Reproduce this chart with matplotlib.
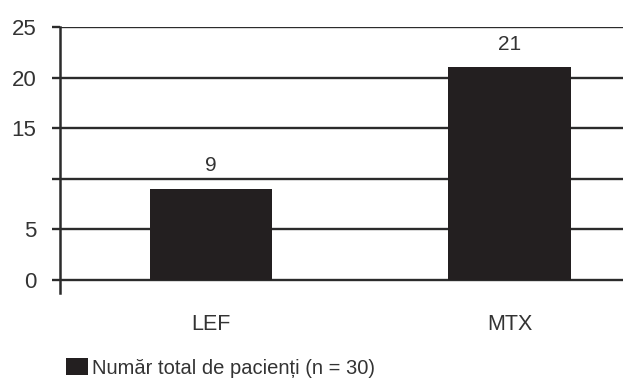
import matplotlib.pyplot as plt

# Pacienţi pe tratament
categorii = ["LEF", "MTX"]
pacienti = [9, 21]
yticks = [0, 5, 10, 15, 20, 25]
ytick_labels = ["0", "5", "", "15", "20", "25"]
legenda = "Număr total de pacienți (n = 30)"

plt.rcParams['font.family'] = ['Liberation Sans', 'DejaVu Sans']

fig = plt.figure(figsize=(6.23, 3.83), dpi=100)
ax = fig.add_axes([60 / 623, 90 / 383, 1 - 60 / 623, 266 / 383])

x = range(len(categorii))
bars = ax.bar(x, pacienti, width=0.41, color="#231f20", zorder=3, label=legenda)

# liniile orizontale
for v in yticks:
    ax.axhline(v, color="#2b2b2b", lw=1.7, zorder=1)

for b, v in zip(bars, pacienti):
    ax.annotate(str(v), (b.get_x() + b.get_width() / 2, v), xytext=(0, 10),
                textcoords="offset points", ha="center", va="bottom",
                fontsize=15, color="#333333")

ax.set_xlim(-0.505, 1.38)
ax.set_ylim(-1.3, 25)
ax.set_yticks(yticks)
ax.set_yticklabels(ytick_labels)
ax.set_xticks(list(x))
ax.set_xticklabels(categorii)

for s in ["top", "right", "bottom"]:
    ax.spines[s].set_visible(False)
ax.spines["left"].set_linewidth(1.8)
ax.spines["left"].set_color("#2b2b2b")

ax.tick_params(axis="y", length=6, width=1.7, color="#2b2b2b", pad=11,
               labelsize=16, labelcolor="#333333")
ax.tick_params(axis="x", length=0, pad=15, labelsize=15.5, labelcolor="#333333")

fig.legend(loc="center left", bbox_to_anchor=(58 / 623, 15 / 383), frameon=False,
           fontsize=14.5, labelcolor="#333333", handlelength=1.1, handleheight=0.9,
           handletextpad=0.2, borderaxespad=0)

fig.savefig("out.png", dpi=100)
